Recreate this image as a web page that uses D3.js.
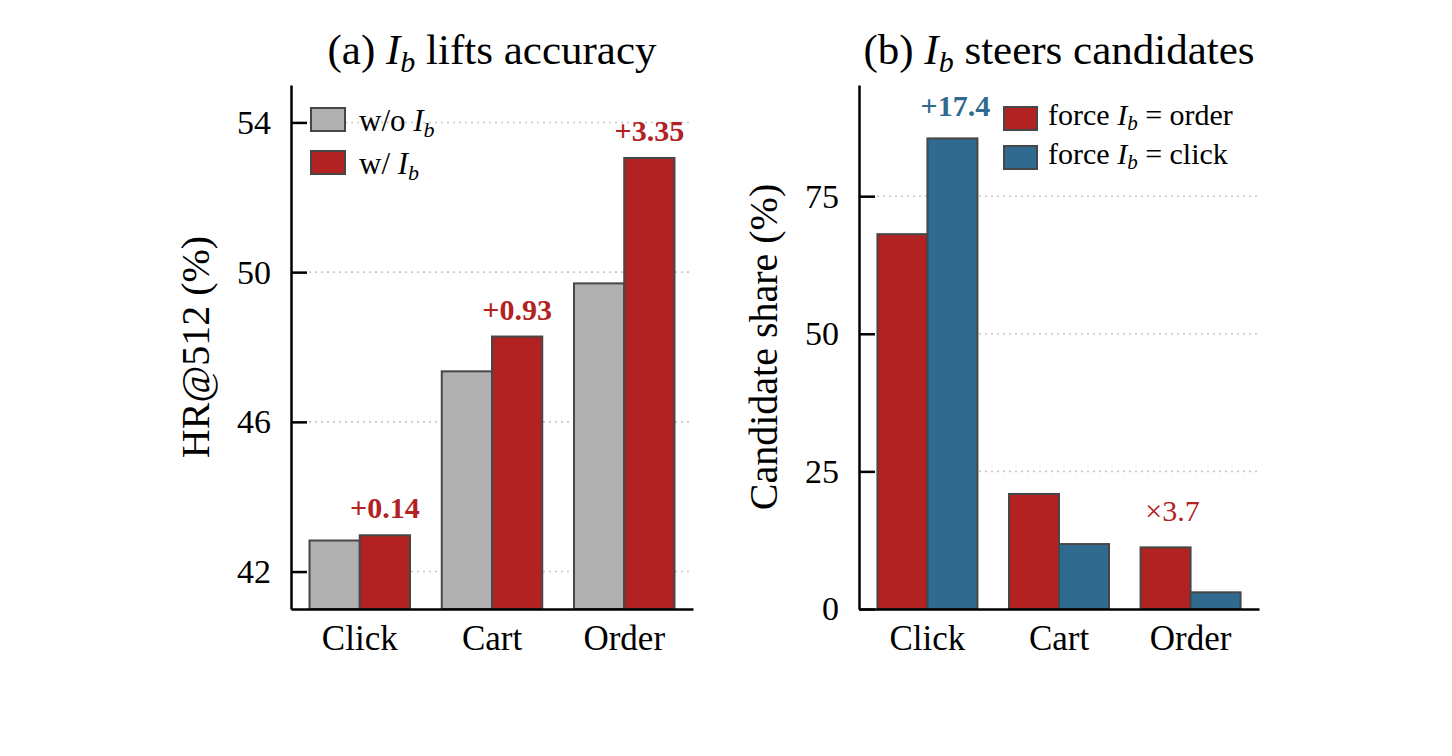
<!DOCTYPE html>
<html><head><meta charset="utf-8">
<script src="https://cdn.jsdelivr.net/npm/d3@7"></script>
<style>
html,body{margin:0;padding:0;background:#fff;}
text{font-family:"Liberation Serif","Times New Roman",serif;}
</style></head>
<body>
<svg id="c" width="1452" height="756"></svg>
<script>
// ---- data ----
const categories = ["Click", "Cart", "Order"];
// panel (a): HR@512 (%)
const hrWithout = [42.83, 47.35, 49.70];
const hrWith    = [42.97, 48.28, 53.05];
const hrDeltaLabels = ["+0.14", "+0.93", "+3.35"];
const hrTicks = [42, 46, 50, 54];
// panel (b): candidate share (%)
const shareOrder = [68.1, 20.9, 11.2];
const shareClick = [85.5, 11.8, 3.03];
const shareTicks = [0, 25, 50, 75];
const shareNotes = [{cat: "Click", series: 1, text: "+17.4"}, {cat: "Order", series: 0, text: "\u00d73.7"}];

const GRAY = "#b0b0b0", RED = "#b22222", BLUE = "#306a8f", EDGE = "#474747";
const FONT = "'Liberation Serif','Times New Roman',serif";

const svg = d3.select("#c");

function panel(opt) {
  const g = svg.append("g");
  const x = d3.scaleBand().domain(categories).range([opt.x0, opt.x1]).paddingInner(0.24).paddingOuter(0.14);
  const y = d3.scaleLinear().domain(opt.domain).range([opt.y1, opt.y0]);
  const sub = d3.scaleBand().domain([0, 1]).range([0, x.bandwidth()]);

  // grid
  g.append("g").selectAll("line").data(opt.ticks.filter(t => t > opt.domain[0])).join("line")
    .attr("x1", opt.x0).attr("x2", opt.x1)
    .attr("y1", d => y(d)).attr("y2", d => y(d))
    .attr("stroke", "#c8c8c8").attr("stroke-width", 1.6).attr("stroke-dasharray", "2,4");

  // bars
  opt.series.forEach((s, si) => {
    g.append("g").selectAll("rect").data(s.values).join("rect")
      .attr("x", (d, i) => x(categories[i]) + sub(si))
      .attr("width", sub.bandwidth())
      .attr("y", d => y(d))
      .attr("height", d => y(opt.domain[0]) - y(d))
      .attr("fill", s.color).attr("stroke", EDGE).attr("stroke-width", 2);
  });

  // y axis
  const ya = d3.axisLeft(y).tickValues(opt.ticks).tickSizeInner(-16).tickSizeOuter(0).tickPadding(20);
  const yg = g.append("g").attr("transform", `translate(${opt.x0},0)`).call(ya);
  yg.select(".domain").attr("stroke", "#000").attr("stroke-width", 2.5);
  yg.selectAll(".tick line").attr("stroke", "#000").attr("stroke-width", 2.5);
  yg.selectAll(".tick text").attr("font-size", 34).attr("fill", "#000").style("font-family", FONT);

  // x axis
  const xa = d3.axisBottom(x).tickSize(0).tickPadding(16);
  const xg = g.append("g").attr("transform", `translate(0,${opt.y1})`).call(xa);
  xg.select(".domain").attr("stroke", "#000").attr("stroke-width", 2.5);
  xg.selectAll(".tick text").attr("font-size", 35).attr("fill", "#000").style("font-family", FONT);

  // title
  const t = g.append("text").attr("x", (opt.x0 + opt.x1) / 2).attr("y", 64)
    .attr("text-anchor", "middle").attr("font-size", 43);
  t.append("tspan").text(opt.titlePre);
  t.append("tspan").attr("font-style", "italic").text("I");
  t.append("tspan").attr("font-style", "italic").attr("font-size", 30).attr("dy", 8).text("b");
  t.append("tspan").attr("dy", -8).text(opt.titlePost);

  // y label
  g.append("text").attr("transform", `translate(${opt.ylabX},${(opt.y0 + opt.y1) / 2}) rotate(-90)`)
    .attr("text-anchor", "middle").attr("font-size", 40).text(opt.ylabel);

  return {g, x, y, sub};
}

// ---- panel a ----
const A = panel({
  x0: 291, x1: 693, y0: 85, y1: 609, domain: [41, 55], ticks: hrTicks,
  series: [{values: hrWithout, color: GRAY}, {values: hrWith, color: RED}],
  titlePre: "(a) ", titlePost: " lifts accuracy", ylabel: "HR@512 (%)", ylabX: 209
});
A.g.append("g").selectAll("text").data(hrWith).join("text")
  .attr("x", (d, i) => A.x(categories[i]) + A.sub(1) + A.sub.bandwidth() / 2)
  .attr("y", d => A.y(d) - 17)
  .attr("text-anchor", "middle").attr("font-weight", "bold").attr("font-size", 30)
  .attr("fill", RED).text((d, i) => hrDeltaLabels[i]);

// legend a
const legA = [{label: "w/o ", color: GRAY}, {label: "w/ ", color: RED}];
legA.forEach((l, i) => {
  const yy = 108 + i * 43;
  A.g.append("rect").attr("x", 311).attr("y", yy).attr("width", 34).attr("height", 23)
    .attr("fill", l.color).attr("stroke", EDGE).attr("stroke-width", 2);
  const t = A.g.append("text").attr("x", 359).attr("y", yy + 23).attr("font-size", 31);
  t.append("tspan").text(l.label);
  t.append("tspan").attr("font-style", "italic").text("I");
  t.append("tspan").attr("font-style", "italic").attr("font-size", 22).attr("dy", 6).text("b");
});

// ---- panel b ----
const B = panel({
  x0: 859, x1: 1259, y0: 85, y1: 609, domain: [0, 95.2], ticks: shareTicks,
  series: [{values: shareOrder, color: RED}, {values: shareClick, color: BLUE}],
  titlePre: "(b) ", titlePost: " steers candidates", ylabel: "Candidate share (%)", ylabX: 777
});
shareNotes.forEach(n => {
  const i = categories.indexOf(n.cat);
  const v = n.series === 1 ? shareClick[i] : shareOrder[i];
  const isBold = n.series === 1;
  B.g.append("text")
    .attr("x", B.x(n.cat) + B.sub(n.series) + B.sub.bandwidth() / 2 + (isBold ? 3 : 7))
    .attr("y", B.y(v) - (isBold ? 22 : 26))
    .attr("text-anchor", "middle").attr("font-size", 30)
    .attr("font-weight", isBold ? "bold" : "normal")
    .attr("fill", isBold ? BLUE : RED).text(n.text);
});

const legB = [{label: "order", color: RED}, {label: "click", color: BLUE}];
legB.forEach((l, i) => {
  const yy = 107 + i * 39;
  B.g.append("rect").attr("x", 1004).attr("y", yy).attr("width", 33).attr("height", 23)
    .attr("fill", l.color).attr("stroke", EDGE).attr("stroke-width", 2);
  const t = B.g.append("text").attr("x", 1048).attr("y", yy + 18).attr("font-size", 30);
  t.append("tspan").text("force ");
  t.append("tspan").attr("font-style", "italic").text("I");
  t.append("tspan").attr("font-style", "italic").attr("font-size", 21).attr("dy", 5).text("b");
  t.append("tspan").attr("dy", -5).text(" = " + l.label);
});
</script>
</body></html>
